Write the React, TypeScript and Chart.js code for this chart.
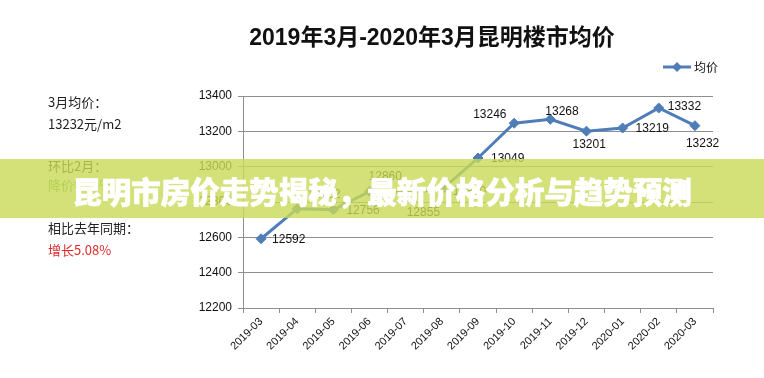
import React, { useEffect, useRef } from "react";
import { Chart, registerables } from "chart.js";
Chart.register(...registerables);

const months = [
  "2019-03", "2019-04", "2019-05", "2019-06", "2019-07", "2019-08", "2019-09",
  "2019-10", "2019-11", "2019-12", "2020-01", "2020-02", "2020-03",
];
const avgPrice = [12592, 12762, 12756, 12860, 12855, 12870, 13049, 13246, 13268, 13201, 13219, 13332, 13232];
const seriesName = "均价";
const yMin = 12200;
const yMax = 13400;
const yStep = 200;
const titleText = "2019年3月-2020年3月昆明楼市均价";
const bannerText = "昆明市房价走势揭秘，最新价格分析与趋势预测";

// style: label offsets relative to each point [dx, dy]
const labelOffsets: [number, number][] = [
  [11, 1], [10, -14], [13, 1], [-1, -15], [1, 20], [11, 2], [13, 1],
  [-41, -9], [-5, -8], [-14, 14], [13, 1], [9, -1], [-9, 18],
];

const LINE_COLOR = "#4f7db8";
const GRID_COLOR = "#8f8f8f";
const LATIN = "'Liberation Sans', Arial, 'Noto Sans CJK SC', sans-serif";

const decorPlugin = {
  id: "decor",
  afterDatasetsDraw(chart: any) {
    const ctx = chart.ctx;
    const meta = chart.getDatasetMeta(0);
    ctx.save();
    ctx.font = `12px ${LATIN}`;
    ctx.fillStyle = "#111";
    ctx.textAlign = "left";
    ctx.textBaseline = "middle";
    meta.data.forEach((pt: any, i: number) => {
      const [dx, dy] = labelOffsets[i] || [10, 0];
      ctx.fillText(String(avgPrice[i]), pt.x + dx, pt.y + dy);
    });
    ctx.restore();
  },
  afterDraw(chart: any) {
    const ctx = chart.ctx;
    const area = chart.chartArea;
    ctx.save();
    // title
    ctx.font = `bold 23px 'Liberation Sans', 'Noto Sans CJK SC', sans-serif`;
    ctx.fillStyle = "#111";
    ctx.textAlign = "center";
    ctx.textBaseline = "middle";
    ctx.fillText(titleText, 432, 39);
    // legend
    const lx = area.right - 50;
    const ly = 67;
    ctx.strokeStyle = LINE_COLOR;
    ctx.lineWidth = 3;
    ctx.beginPath();
    ctx.moveTo(lx, ly);
    ctx.lineTo(lx + 28, ly);
    ctx.stroke();
    ctx.fillStyle = LINE_COLOR;
    ctx.beginPath();
    ctx.moveTo(lx + 14, ly - 5);
    ctx.lineTo(lx + 19, ly);
    ctx.lineTo(lx + 14, ly + 5);
    ctx.lineTo(lx + 9, ly);
    ctx.closePath();
    ctx.fill();
    ctx.fillStyle = "#111";
    ctx.font = `12px 'Noto Sans CJK SC', sans-serif`;
    ctx.textAlign = "left";
    ctx.fillText(seriesName, lx + 31, ly);
    ctx.restore();
  },
};

const sideText = [
  { text: "3月均价：", cy: 102, color: "#222" },
  { text: "13232元/m2", cy: 124, color: "#222" },
  { text: "环比2月：", cy: 166, color: "#222" },
  { text: "降价0.75%", cy: 185, color: "#5aa83c" },
  { text: "相比去年同期：", cy: 228, color: "#222" },
  { text: "增长5.08%", cy: 250, color: "#e02a2a" },
];

export default function App() {
  const ref = useRef<HTMLCanvasElement>(null);
  useEffect(() => {
    if (!ref.current) return;
    const chart = new Chart(ref.current, {
      type: "line",
      data: {
        labels: months,
        datasets: [
          {
            label: seriesName,
            data: avgPrice,
            borderColor: LINE_COLOR,
            backgroundColor: LINE_COLOR,
            borderWidth: 3,
            pointStyle: "rectRot",
            pointRadius: 5,
            pointBorderWidth: 1,
            tension: 0,
          },
        ],
      },
      options: {
        responsive: false,
        devicePixelRatio: 1,
        animation: false,
        layout: { padding: { top: 96, left: 0, right: 51, bottom: 0 } },
        plugins: {
          legend: { display: false },
          title: { display: false },
          tooltip: { enabled: false },
        },
        scales: {
          x: {
            type: "category",
            offset: true,
            grid: {
              offset: true,
              drawOnChartArea: false,
              drawTicks: true,
              tickLength: 5,
              color: GRID_COLOR,
            },
            border: { color: GRID_COLOR, width: 1 },
            ticks: {
              autoSkip: false,
              maxRotation: 45,
              minRotation: 45,
              color: "#111",
              font: { size: 11, family: LATIN },
              padding: 2,
            },
            afterFit(scale: any) {
              scale.height = 70;
            },
          },
          y: {
            min: yMin,
            max: yMax,
            ticks: {
              stepSize: yStep,
              color: "#111",
              font: { size: 12, family: LATIN },
              padding: 6,
              callback: (v: any) => String(v),
            },
            grid: { color: GRID_COLOR, tickLength: 5 },
            border: { color: GRID_COLOR, width: 1 },
            afterFit(scale: any) {
              scale.width = 243;
            },
          },
        },
      },
      plugins: [decorPlugin],
    });
    return () => chart.destroy();
  }, []);

  return (
    <div
      style={{
        position: "absolute",
        left: 0,
        top: 0,
        width: 764,
        height: 378,
        background: "#fff",
        overflow: "hidden",
      }}
    >
      <canvas ref={ref} width={764} height={378} style={{ display: "block" }} />
      {sideText.map((s, i) => (
        <div
          key={i}
          style={{
            position: "absolute",
            left: 48,
            top: s.cy - 9,
            height: 18,
            lineHeight: "18px",
            fontSize: 13,
            fontFamily: "'Noto Sans CJK SC', sans-serif",
            color: s.color,
            whiteSpace: "nowrap",
          }}
        >
          {s.text}
        </div>
      ))}
      <div
        style={{
          position: "absolute",
          left: 0,
          top: 159,
          width: 764,
          height: 59,
          background: "rgba(200, 218, 86, 0.8)",
          color: "#fff",
          fontFamily: "'Noto Sans CJK SC', sans-serif",
          fontWeight: 900,
          fontSize: 29.5,
          lineHeight: "62px",
          textAlign: "center",
          whiteSpace: "nowrap",
          WebkitTextStroke: "0.7px #fff",
        }}
      >
        {bannerText}
      </div>
    </div>
  );
}
